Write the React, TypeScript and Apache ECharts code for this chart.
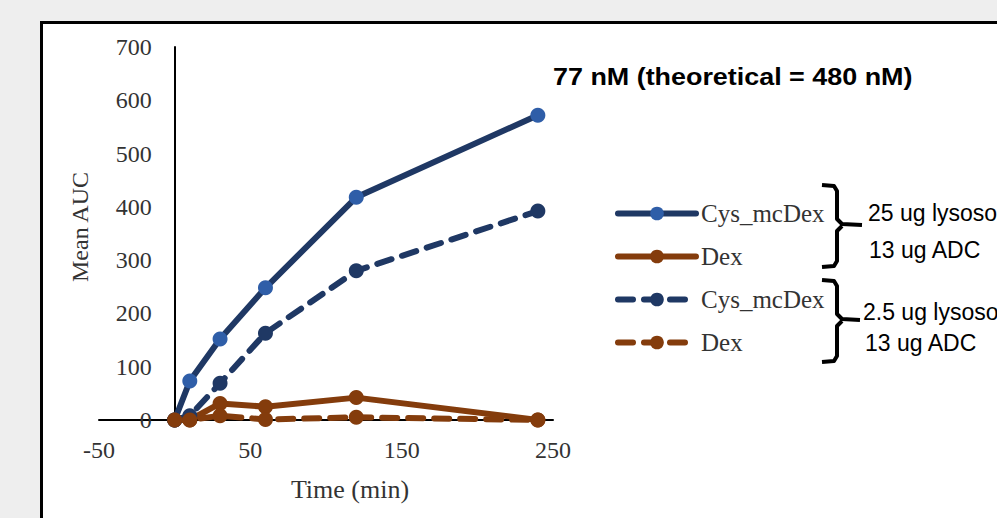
import React, { useEffect, useRef } from "react";
import * as echarts from "echarts";

// ---- data ----
const times = [0, 10, 30, 60, 120, 240];
const cysHigh = [0, 73, 152, 248, 418, 572];
const dexHigh = [0, 0, 31, 25, 42, 0];
const cysLow = [0, 8, 69, 163, 280, 392];
const dexLow = [0, 0, 8, 1, 5, 0];

const seriesKeys = ["cysHigh", "dexHigh", "cysLow", "dexLow"];
const legendLabels = ["Cys_mcDex", "Dex", "Cys_mcDex", "Dex"];
const xTicks = { min: -50, max: 250, interval: 100 };
const yTicks = { min: 0, max: 700, interval: 100 };

const titleText = "77 nM (theoretical = 480 nM)";
const groupLabels = [
  ["25 ug lysosomes", "13 ug ADC"],
  ["2.5 ug lysosomes", "13 ug ADC"],
];

const NAVY = "#1f3864";
const BLUE = "#2f5ea8";
const BROWN = "#843c0c";
const SERIF = "'Liberation Serif', 'Times New Roman', serif";
const SANS = "'Liberation Sans', Arial, sans-serif";
const TXT = "#333333";

const GRID_LEFT = 99;
const GRID_RIGHT_EDGE = 553;

const pairs = (ys: number[]) => times.map((t, i) => [t, ys[i]]);

export default function App() {
  const ref = useRef<HTMLDivElement>(null);
  useEffect(() => {
    if (!ref.current) return;
    const chart = echarts.init(ref.current, null, { renderer: "svg" });
    const dash = [15, 11];
    const mk = (
      key: string,
      ys: number[],
      lineColor: string,
      markerColor: string,
      dashed: boolean
    ) => ({
      name: key,
      type: "line",
      data: pairs(ys),
      symbol: "circle",
      symbolSize: 15,
      lineStyle: {
        color: lineColor,
        width: 6,
        type: dashed ? dash : "solid",
        cap: "round",
      },
      itemStyle: { color: markerColor },
    });
    const labelMap: Record<string, string> = {};
    seriesKeys.forEach((k, i) => (labelMap[k] = legendLabels[i]));

    // pixel offset of the x = 0 position from the grid's left edge
    const zeroOffset =
      ((0 - xTicks.min) / (xTicks.max - xTicks.min)) * (GRID_RIGHT_EDGE - GRID_LEFT);

    const bracket = (top: number, tip: number, bottom: number, tipEnd: number) => [
      {
        type: "polyline",
        shape: {
          points: [
            [822, top],
            [834, top + 1],
            [837, top + 6],
            [837, tip - 6],
            [842, tip - 1],
            [tipEnd, tip],
          ],
        },
        style: { stroke: "#000", lineWidth: 4, fill: "none", lineJoin: "round" },
      },
      {
        type: "polyline",
        shape: {
          points: [
            [842, tip + 1],
            [837, tip + 6],
            [837, bottom - 6],
            [834, bottom - 1],
            [822, bottom],
          ],
        },
        style: { stroke: "#000", lineWidth: 4, fill: "none", lineJoin: "round" },
      },
    ];

    const annot = (x: number, y: number, text: string) => ({
      type: "text",
      x,
      y,
      style: { text, fontFamily: SANS, fontSize: 23, fill: "#000", verticalAlign: "middle" },
    });

    const option: any = {
      animation: false,
      backgroundColor: "transparent",
      grid: {
        left: GRID_LEFT,
        right: 997 - GRID_RIGHT_EDGE,
        top: 47,
        bottom: 98,
        containLabel: false,
        outerBoundsMode: "none",
      },
      xAxis: {
        type: "value",
        min: xTicks.min,
        max: xTicks.max,
        interval: xTicks.interval,
        axisLine: { onZero: true, lineStyle: { color: "#000", width: 2 } },
        axisTick: { show: false },
        splitLine: { show: false },
        axisLabel: { fontFamily: SERIF, fontSize: 24, color: TXT, margin: 18 },
        name: "Time (min)",
        nameLocation: "middle",
        nameGap: 56,
        nameTextStyle: {
          fontFamily: SERIF,
          fontSize: 26,
          color: TXT,
          padding: [0, 0, 0, 48],
        },
      },
      yAxis: {
        type: "value",
        min: yTicks.min,
        max: yTicks.max,
        interval: yTicks.interval,
        offset: -zeroOffset,
        axisLine: { show: true, onZero: false, lineStyle: { color: "#000", width: 2 } },
        axisTick: { show: false },
        splitLine: { show: false },
        axisLabel: { fontFamily: SERIF, fontSize: 24, color: TXT, margin: 23 },
        name: "Mean AUC",
        nameLocation: "middle",
        nameGap: 83,
        nameTextStyle: {
          fontFamily: SERIF,
          fontSize: 24,
          color: TXT,
          padding: [0, 0, 0, 13],
        },
      },
      legend: {
        orient: "vertical",
        left: 610,
        top: 196,
        itemWidth: 78,
        itemHeight: 17,
        itemGap: 18,
        data: seriesKeys,
        formatter: (n: string) => labelMap[n] || n,
        lineStyle: { width: 6 },
        textStyle: { fontFamily: SERIF, fontSize: 25, color: TXT },
      },
      series: [
        mk("cysHigh", cysHigh, NAVY, BLUE, false),
        mk("dexHigh", dexHigh, BROWN, BROWN, false),
        mk("cysLow", cysLow, NAVY, NAVY, true),
        mk("dexLow", dexLow, BROWN, BROWN, true),
      ],
      graphic: [
        {
          type: "text",
          x: 553,
          y: 77,
          scaleX: 1.17,
          style: {
            text: titleText,
            fontFamily: SANS,
            fontWeight: "bold",
            fontSize: 23,
            fill: "#000",
            verticalAlign: "middle",
          },
        },
        ...bracket(185, 225, 267, 862),
        ...bracket(280, 320, 362, 860),
        annot(868, 213, groupLabels[0][0]),
        annot(869, 250, groupLabels[0][1]),
        annot(863, 312, groupLabels[1][0]),
        annot(865, 343, groupLabels[1][1]),
      ],
    };
    chart.setOption(option);
    return () => chart.dispose();
  }, []);

  return (
    <div
      style={{
        position: "fixed",
        left: 0,
        top: 0,
        width: 997,
        height: 518,
        background: "#eeeeee",
        overflow: "hidden",
      }}
    >
      <div
        style={{
          position: "absolute",
          left: 40,
          top: 21,
          width: 1000,
          height: 600,
          background: "#ffffff",
          border: "3px solid #000",
          boxSizing: "border-box",
        }}
      />
      <div
        ref={ref}
        style={{ position: "absolute", left: 0, top: 0, width: 997, height: 518 }}
      />
    </div>
  );
}
